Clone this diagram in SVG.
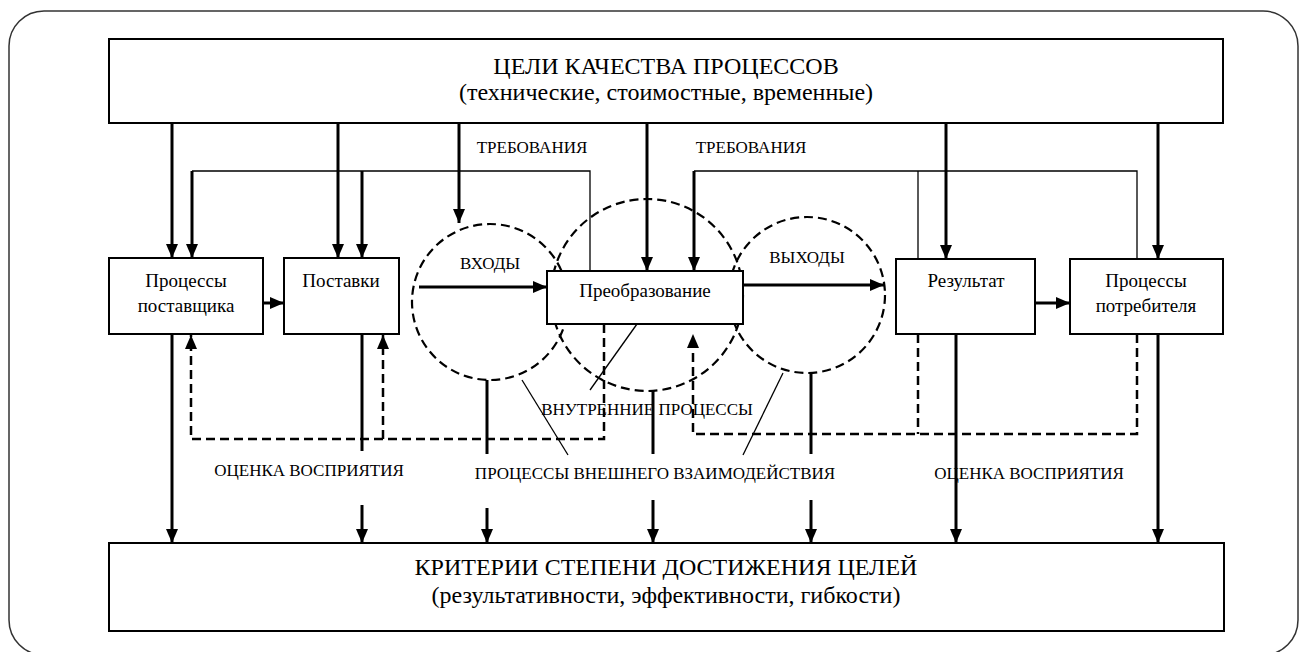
<svg xmlns="http://www.w3.org/2000/svg" width="1306" height="652" viewBox="0 0 1306 652">
<defs>
<style>
text{fill:#000;text-anchor:middle;font-family:'Liberation Serif','Times New Roman',serif}
.box{fill:#fff;stroke:#000;stroke-width:2}
.big{font-size:24px}
.nl{font-size:19px}
.sl{font-size:17px}
.th{fill:none;stroke:#000;stroke-width:3}
.tn{fill:none;stroke:#000;stroke-width:1.3}
.ds{fill:none;stroke:#000;stroke-width:2.5;stroke-dasharray:9 5}
.circ{fill:none;stroke:#000;stroke-width:2.2;stroke-dasharray:9 5}
</style>
<marker id="ah" viewBox="0 0 14 12" refX="14" refY="6" markerWidth="14" markerHeight="12" markerUnits="userSpaceOnUse" orient="auto">
<path d="M0,0 L14,6 L0,12 z" fill="#000"/>
</marker>
</defs>
<rect x="9" y="11" width="1289" height="644" rx="35" fill="#fff" stroke="#333" stroke-width="1.5"/>

<g id="circles">
<circle id="circle-inputs" class="circ" cx="490" cy="302" r="78"/>
<circle id="circle-transform" class="circ" cx="647" cy="295" r="96"/>
<circle id="circle-outputs" class="circ" cx="807" cy="295" r="78"/>
</g>

<g id="connectors">
<path class="th" d="M172,123V258" marker-end="url(#ah)"/>
<path class="th" d="M338,123V258" marker-end="url(#ah)"/>
<path class="th" d="M459,123V223" marker-end="url(#ah)"/>
<path class="th" d="M647,123V271" marker-end="url(#ah)"/>
<path class="th" d="M946,123V259" marker-end="url(#ah)"/>
<path class="th" d="M1158,123V259" marker-end="url(#ah)"/>
<path class="tn" d="M590,271V171H192"/>
<path class="th" d="M192,171V258" marker-end="url(#ah)"/>
<path class="th" d="M362,171V258" marker-end="url(#ah)"/>
<path class="tn" d="M918,259V171"/>
<path class="tn" d="M1137,259V171H694"/>
<path class="th" d="M694,171V271" marker-end="url(#ah)"/>
<path class="th" d="M263,303H284" marker-end="url(#ah)"/>
<path class="th" d="M419,287H547" marker-end="url(#ah)"/>
<path class="th" d="M743,285H884" marker-end="url(#ah)"/>
<path class="th" d="M1035,303H1070" marker-end="url(#ah)"/>
<path class="th" d="M172,334V543" marker-end="url(#ah)"/>
<path class="th" d="M362,334V451"/>
<path class="th" d="M362,505V543" marker-end="url(#ah)"/>
<path class="th" d="M487,380V454"/>
<path class="th" d="M487,508V543" marker-end="url(#ah)"/>
<path class="th" d="M653,390V454"/>
<path class="th" d="M653,500V543" marker-end="url(#ah)"/>
<path class="th" d="M811,373V454"/>
<path class="th" d="M811,500V543" marker-end="url(#ah)"/>
<path class="th" d="M956,334V543" marker-end="url(#ah)"/>
<path class="th" d="M1158,334V543" marker-end="url(#ah)"/>
<path class="ds" d="M604,324V439H191V335" marker-end="url(#ah)"/>
<path class="ds" d="M383,439V335" marker-end="url(#ah)"/>
<path class="ds" d="M918,334V434"/>
<path class="ds" d="M1137,334V434H693V334" marker-end="url(#ah)"/>
<path class="tn" d="M637,324L590,390"/>
<path class="tn" d="M522,380L568,455"/>
<path class="tn" d="M783,373L743,455"/>
</g>

<g id="goals">
<rect class="box" x="109" y="39" width="1114" height="84"/>
<text class="big" x="666" y="74">ЦЕЛИ КАЧЕСТВА ПРОЦЕССОВ</text>
<text class="big" x="666" y="100">(технические, стоимостные, временные)</text>
</g>
<g id="criteria">
<rect class="box" x="109" y="543" width="1115" height="88"/>
<text class="big" x="666" y="575">КРИТЕРИИ СТЕПЕНИ ДОСТИЖЕНИЯ ЦЕЛЕЙ</text>
<text class="big" x="666" y="603">(результативности, эффективности, гибкости)</text>
</g>
<g id="supplier">
<rect class="box" x="109" y="258" width="154" height="76"/>
<text class="nl" x="186" y="287">Процессы</text>
<text class="nl" x="186" y="312">поставщика</text>
</g>
<g id="supplies">
<rect class="box" x="284" y="258" width="115" height="76"/>
<text class="nl" x="341" y="287">Поставки</text>
</g>
<g id="transform">
<rect class="box" x="547" y="271" width="196" height="53"/>
<text class="nl" x="645" y="297">Преобразование</text>
</g>
<g id="result">
<rect class="box" x="896" y="259" width="139" height="75"/>
<text class="nl" x="966" y="287">Результат</text>
</g>
<g id="consumer">
<rect class="box" x="1070" y="259" width="153" height="75"/>
<text class="nl" x="1146" y="287">Процессы</text>
<text class="nl" x="1146" y="312">потребителя</text>
</g>

<g id="labels">
<text class="sl" x="532" y="153">ТРЕБОВАНИЯ</text>
<text class="sl" x="751" y="153">ТРЕБОВАНИЯ</text>
<text class="sl" x="490" y="269">ВХОДЫ</text>
<text class="sl" x="807" y="263">ВЫХОДЫ</text>
<text class="sl" x="647" y="415">ВНУТРЕННИЕ ПРОЦЕССЫ</text>
<text class="sl" x="655" y="479">ПРОЦЕССЫ ВНЕШНЕГО ВЗАИМОДЕЙСТВИЯ</text>
<text class="sl" x="309" y="476">ОЦЕНКА ВОСПРИЯТИЯ</text>
<text class="sl" x="1029" y="479">ОЦЕНКА ВОСПРИЯТИЯ</text>
</g>
</svg>
